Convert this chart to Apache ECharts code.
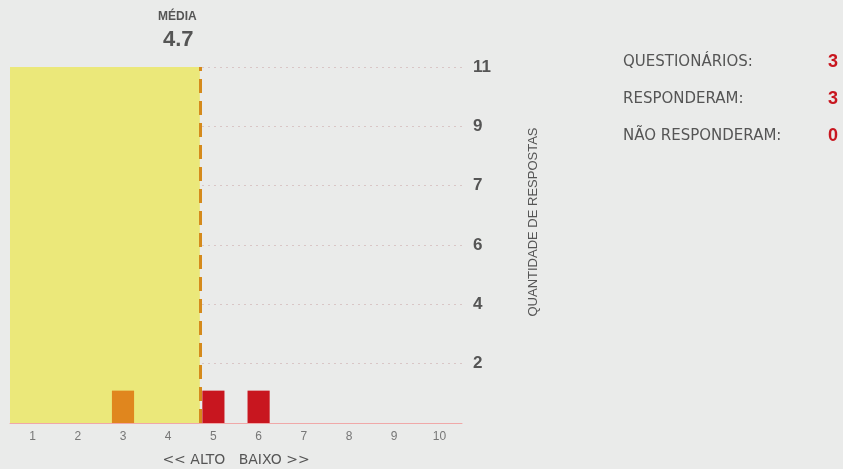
<!DOCTYPE html>
<html><head><meta charset="utf-8">
<script src="https://cdn.jsdelivr.net/npm/echarts@6/dist/echarts.min.js"></script>
<style>html,body{margin:0;padding:0;background:#eaebea;}#c{width:843px;height:469px;}</style>
</head><body><div id="c"></div>
<script>
const categories = ['1','2','3','4','5','6','7','8','9','10'];
const responses = [0,0,1,0,1,1,0,0,0,0];
const barColors = ['#e0861e','#e0861e','#e0861e','#e0861e','#c8161f','#c8161f','#c8161f','#c8161f','#c8161f','#c8161f'];
const meanValue = [4.7];
const yMax = 11;
const ySteps = 6;
const statLabels = ['QUESTIONÁRIOS:', 'RESPONDERAM:', 'NÃO RESPONDERAM:'];
const statValues = [3, 3, 0];

const chart = echarts.init(document.getElementById('c'));
const font = 'Liberation Sans, Arial, sans-serif';
const dfont = 'DejaVu Sans, sans-serif';
const graphics = [
  {type:'text', left:158, top:11, style:{text:'MÉDIA', font:'bold 12px '+font, fill:'#555'}},
  {type:'text', left:163, top:29, style:{text:String(meanValue[0]), font:'bold 22px '+font, fill:'#555'}},
  {type:'text', x:533, y:222, rotation:Math.PI/2,
   style:{text:'QUANTIDADE DE RESPOSTAS', font:'13px '+font, fill:'#555', align:'center', verticalAlign:'middle'}}
];
statLabels.forEach((s,i)=>{
  graphics.push({type:'text', left:623, top:55+i*37, style:{text:s, font:'15px '+dfont, fill:'#555'}});
  graphics.push({type:'text', left:828, top:53+i*37, style:{text:String(statValues[i]), font:'bold 18px '+font, fill:'#c8161f'}});
});
chart.setOption({
  backgroundColor:'#eaebea',
  animation:false,
  grid:{left:10, right:381, top:67, bottom:46, containLabel:false, outerBoundsMode:'none'},
  graphic: graphics,
  xAxis:[{
    type:'category', data:categories,
    axisLine:{lineStyle:{color:'#f0a8a8', width:1}},
    axisTick:{show:false},
    axisLabel:{color:'#777', fontSize:12, margin:8, fontFamily:font},
    name:'<< ALTO   BAIXO >>', nameLocation:'middle', nameGap:30,
    nameTextStyle:{color:'#555', fontSize:14, fontFamily:dfont}
  },{
    type:'value', min:0.5, max:10.5, show:false
  }],
  yAxis:{
    type:'value', position:'right', min:0, max:yMax, interval:yMax/ySteps,
    axisLine:{show:false}, axisTick:{show:false},
    splitLine:{lineStyle:{color:'#d9c6c6', type:[2,4], width:1}},
    axisLabel:{color:'#555', fontSize:17, fontWeight:'bold', margin:11, fontFamily:font,
      padding:[0,0,6,0],
      formatter:v=> v<=0 ? '' : String(Math.round(v+1e-9))}
  },
  series:[{
    type:'bar', data:responses.map((v,i)=>({value:v, itemStyle:{color:barColors[i]}})),
    barWidth:'49%', z:3
  },{
    type:'line', xAxisIndex:1, data:[], z:1,
    markArea:{silent:true, itemStyle:{color:'#ebe87a'}, data:[[{xAxis:0.5},{xAxis:meanValue[0]}]]},
    markLine:{silent:true, symbol:'none', label:{show:false},
      lineStyle:{color:'#d58a1c', width:3, type:[14,8]},
      data:[{xAxis:meanValue[0]}]}
  }]
});
</script></body></html>
